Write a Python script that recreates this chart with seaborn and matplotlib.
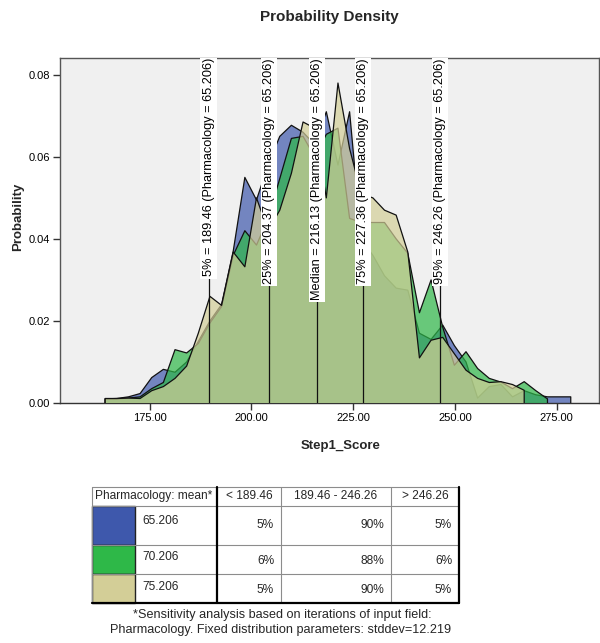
import matplotlib
matplotlib.use("Agg")
import matplotlib.pyplot as plt
import numpy as np
import pandas as pd
import seaborn as sns
from matplotlib.patches import Rectangle

# Bin midpoints of Step1_Score used by the frequency polygons
scores = [164.06, 166.92, 169.78, 172.64, 175.50, 178.36, 181.22, 184.08, 186.94,
          189.80, 192.66, 195.52, 198.38, 201.24, 204.10, 206.96, 209.82, 212.68,
          215.54, 218.40, 221.26, 224.12, 226.98, 229.84, 232.70, 235.56, 238.42,
          241.28, 244.14, 247.00, 249.86, 252.72, 255.58, 258.44, 261.30, 264.16,
          267.02, 269.88, 272.74, 275.60, 278.46]

# Probability density per Pharmacology mean
density_65 = [0.0010, 0.0011, 0.0015, 0.0023, 0.0062, 0.0082, 0.0075, 0.0100, 0.0150,
              0.0200, 0.0240, 0.0370, 0.0550, 0.0495, 0.0580, 0.0650, 0.0677, 0.0660,
              0.0630, 0.0710, 0.0580, 0.0710, 0.0400, 0.0360, 0.0310, 0.0280, 0.0275,
              0.0170, 0.0155, 0.0190, 0.0140, 0.0100, 0.0012, 0.0040, 0.0045, 0.0015,
              0.0030, 0.0020, 0.0015, 0.0015, 0.0015]
density_70 = [0.0010, 0.0010, 0.0012, 0.0015, 0.0035, 0.0050, 0.0130, 0.0122, 0.0145,
              0.0195, 0.0235, 0.0360, 0.0420, 0.0385, 0.0450, 0.0547, 0.0645, 0.0650,
              0.0600, 0.0655, 0.0670, 0.0450, 0.0440, 0.0440, 0.0440, 0.0400, 0.0365,
              0.0220, 0.0300, 0.0185, 0.0092, 0.0125, 0.0084, 0.0060, 0.0051, 0.0035,
              0.0052, 0.0030, 0.0010]
density_75 = [0.0011, 0.0011, 0.0012, 0.0011, 0.0030, 0.0040, 0.0060, 0.0090, 0.0170,
              0.0260, 0.0238, 0.0368, 0.0332, 0.0500, 0.0420, 0.0470, 0.0560, 0.0685,
              0.0670, 0.0500, 0.0780, 0.0620, 0.0510, 0.0500, 0.0470, 0.0458, 0.0368,
              0.0110, 0.0153, 0.0160, 0.0120, 0.0080, 0.0060, 0.0050, 0.0052, 0.0045,
              0.0031]

means = ["65.206", "70.206", "75.206"]
colors = ["#3E58AC", "#2EB848", "#D3CE97"]

pct_names = ["5%", "25%", "Median", "75%", "95%"]
pct_values = [189.46, 204.37, 216.13, 227.36, 246.26]

band_labels = ["< 189.46", "189.46 - 246.26", "> 246.26"]
share_below = ["5%", "6%", "5%"]
share_mid = ["90%", "88%", "90%"]
share_above = ["5%", "6%", "5%"]

x_ticks = [175, 200, 225, 250, 275]
y_ticks = [0.00, 0.02, 0.04, 0.06, 0.08]

sns.set_theme(style="ticks")
plt.rcParams["font.family"] = ["Liberation Sans", "DejaVu Sans"]

W, H = 600, 643
fig = plt.figure(figsize=(W / 100, H / 100), dpi=100)
fig.patch.set_facecolor("white")

ax = fig.add_axes([60 / W, 1 - 403 / H, 539 / W, 345 / H])
ax.set_facecolor("#F0F0F0")

# closed polygon outlines: drop to zero at first and last bin
rows = []
for m, dens in zip(means, [density_65, density_70, density_75]):
    xs = scores[:len(dens)]
    px = [xs[0]] + xs + [xs[-1]]
    py = [0.0] + dens + [0.0]
    for i, (a, b) in enumerate(zip(px, py)):
        rows.append((m, i, a, b))
df = pd.DataFrame(rows, columns=["mean", "order", "score", "density"])

for i, (m, c) in enumerate(zip(means, colors)):
    sub = df[df["mean"] == m]
    ax.fill(sub["score"], sub["density"], facecolor=c, alpha=0.7,
            edgecolor="none", zorder=2 + 2 * i)
    sns.lineplot(data=sub, x="score", y="density", sort=False, estimator=None,
                 color="#111111", lw=0.9, ax=ax, zorder=3 + 2 * i)

ax.set_xlim(152.96, 285.4)
ax.set_ylim(0, 0.0841)

top = ax.get_ylim()[1]
ax.vlines(pct_values, 0, top, colors="#111111", lw=0.9, zorder=10)
for n, v in zip(pct_names, pct_values):
    ax.text(v, top, f"{n} = {v:.2f} (Pharmacology = {means[0]})", rotation=90,
            ha="center", va="top", fontsize=9.2, color="black",
            bbox=dict(facecolor="white", edgecolor="none", pad=1.6),
            zorder=11, clip_on=True)

ax.set_xticks(x_ticks)
ax.set_xticklabels([f"{t:.2f}" for t in x_ticks])
ax.set_yticks(y_ticks)
ax.set_yticklabels([f"{t:.2f}" for t in y_ticks])
ax.tick_params(direction="out", length=5, width=1, colors="#333333",
               labelsize=8, labelcolor="black", pad=2)
for s in ax.spines.values():
    s.set_visible(True)
    s.set_color("#555555")
    s.set_linewidth(1.0)
ax.spines["bottom"].set_color("#333333")

ax.set_xlabel("Step1_Score", fontsize=9.5, fontweight="bold")
ax.set_ylabel("Probability", fontsize=9.5, fontweight="bold")
ax.xaxis.set_label_coords((341 - 60) / 539, (403 - 440) / 345)
ax.yaxis.set_label_coords((24 - 60) / 539, (403 - 217) / 345)

fig.text(329 / W, 1 - 17 / H, "Probability Density", ha="center", va="center",
         fontsize=11, fontweight="bold")

# summary table under the chart, drawn in pixel coordinates
tab = fig.add_axes([0, 0, 1, 1])
tab.set_xlim(0, W)
tab.set_ylim(H, 0)
tab.axis("off")

cols = [92, 217, 281, 391, 459]
row_y = [487, 506, 545, 574, 603]
grey = "#8C8C8C"
for y in row_y[:-1]:
    tab.plot([cols[0], cols[-1]], [y, y], color=grey, lw=0.8)
for x in [cols[0], cols[2], cols[3]]:
    tab.plot([x, x], [row_y[0], row_y[-1]], color=grey, lw=0.8)
tab.plot([cols[1], cols[1]], [row_y[0], row_y[-1]], color="black", lw=1.6)
tab.plot([cols[-1], cols[-1]], [row_y[0], row_y[-1]], color="black", lw=1.6)
tab.plot([cols[0], cols[-1]], [row_y[-1], row_y[-1]], color="black", lw=1.6)

sw_w = 43
for i, c in enumerate(colors):
    tab.add_patch(Rectangle((cols[0], row_y[i + 1]), sw_w, row_y[i + 2] - row_y[i + 1],
                            facecolor=c, edgecolor="#222222", lw=1.0))

tfs = 8.6
tab.text(95, 496, "Pharmacology: mean*", ha="left", va="center", fontsize=tfs)
for j, lab in enumerate(band_labels):
    tab.text((cols[j + 1] + cols[j + 2]) / 2, 496, lab, ha="center", va="center", fontsize=tfs)

mean_y = [521, 557, 587]
pct_y = [525, 561, 590]
for i in range(3):
    tab.text(cols[0] + sw_w + 7, mean_y[i], means[i], ha="left", va="center", fontsize=tfs)
    for j, vals in enumerate([share_below, share_mid, share_above]):
        tab.text(cols[j + 2] - 7, pct_y[i], vals[i], ha="right", va="center", fontsize=tfs)

tab.text(282, 615, "*Sensitivity analysis based on iterations of input field:",
         ha="center", va="center", fontsize=9.1)
tab.text(281, 630, "Pharmacology. Fixed distribution parameters: stddev=12.219",
         ha="center", va="center", fontsize=9.1)

fig.savefig("out.png", dpi=100)
